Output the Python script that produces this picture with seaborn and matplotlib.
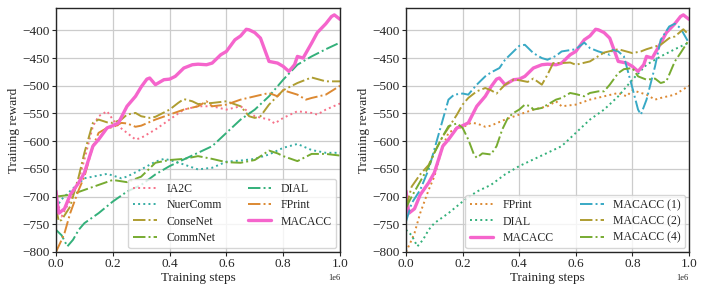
import matplotlib
matplotlib.use("Agg")
import matplotlib.pyplot as plt
import seaborn as sns
import numpy as np

# ---------------- data (x in units of 1e6 training steps) ----------------
macacc_x = [0, 0.005, 0.01, 0.03, 0.05, 0.08, 0.10, 0.13, 0.15, 0.18, 0.20, 0.22, 0.25, 0.28, 0.30,
            0.32, 0.33, 0.35, 0.38, 0.40, 0.42, 0.45, 0.48, 0.50, 0.53, 0.55, 0.58, 0.60, 0.63, 0.65,
            0.67, 0.68, 0.70, 0.72, 0.75, 0.78, 0.80, 0.82, 0.84, 0.85, 0.87, 0.90, 0.92, 0.95, 0.97,
            0.98, 1.0]
macacc_y = [-690, -712, -730, -722, -697, -675, -657, -609, -597, -576, -572, -567, -537, -519, -502,
            -488, -486, -498, -489, -488, -483, -468, -462, -461, -462, -459, -444, -438, -417, -410,
            -398, -399, -404, -414, -456, -459, -465, -474, -462, -447, -450, -423, -404, -388, -375,
            -372, -380]

dial_x = [0, 0.02, 0.04, 0.06, 0.08, 0.10, 0.15, 0.20, 0.25, 0.30, 0.35, 0.40, 0.45, 0.50, 0.55,
          0.60, 0.65, 0.70, 0.75, 0.80, 0.85, 0.90, 0.95, 1.0]
dial_y = [-760, -770, -790, -778, -760, -748, -730, -709, -691, -679, -660, -645, -633, -621, -609,
          -585, -561, -543, -519, -489, -462, -447, -434, -422]

ia2c_x = [0, 0.02, 0.05, 0.08, 0.10, 0.13, 0.15, 0.18, 0.20, 0.22, 0.25, 0.28, 0.30, 0.35, 0.40,
          0.45, 0.50, 0.55, 0.60, 0.65, 0.70, 0.75, 0.77, 0.80, 0.85, 0.90, 0.92, 0.95, 1.0]
ia2c_y = [-700, -736, -706, -670, -633, -573, -555, -546, -561, -573, -585, -597, -594, -579, -561,
          -543, -537, -537, -543, -537, -555, -561, -568, -558, -546, -549, -552, -543, -532]

nuercomm_x = [0, 0.02, 0.05, 0.10, 0.15, 0.18, 0.20, 0.23, 0.25, 0.30, 0.35, 0.38, 0.40, 0.45, 0.50,
              0.55, 0.60, 0.65, 0.70, 0.75, 0.80, 0.85, 0.90, 0.95, 1.0]
nuercomm_y = [-720, -705, -690, -667, -662, -659, -662, -667, -664, -651, -637, -632, -634, -642, -651,
              -648, -637, -635, -632, -624, -612, -605, -616, -621, -621]

consenet_x = [0, 0.01, 0.02, 0.05, 0.08, 0.10, 0.13, 0.15, 0.18, 0.20, 0.23, 0.25, 0.28, 0.30, 0.33,
              0.35, 0.40, 0.43, 0.45, 0.48, 0.50, 0.55, 0.60, 0.65, 0.68, 0.70, 0.72, 0.75, 0.80,
              0.85, 0.90, 0.95, 1.0]
consenet_y = [-720, -745, -742, -718, -664, -621, -567, -561, -566, -567, -561, -552, -549, -555, -558,
              -556, -543, -531, -524, -528, -533, -531, -528, -537, -555, -558, -555, -534, -508,
              -495, -485, -492, -492]

commnet_x = [0, 0.05, 0.10, 0.15, 0.20, 0.25, 0.30, 0.35, 0.40, 0.45, 0.50, 0.55, 0.60, 0.65, 0.70,
             0.75, 0.78, 0.80, 0.85, 0.90, 0.95, 1.0]
commnet_y = [-700, -697, -688, -679, -670, -674, -664, -639, -634, -632, -627, -632, -638, -639, -634,
             -617, -622, -627, -636, -623, -623, -626]

fprint_x = [0, 0.02, 0.03, 0.05, 0.08, 0.10, 0.13, 0.15, 0.18, 0.20, 0.23, 0.25, 0.28, 0.30, 0.35,
            0.40, 0.45, 0.50, 0.53, 0.55, 0.60, 0.65, 0.70, 0.75, 0.78, 0.80, 0.85, 0.88, 0.90,
            0.95, 1.0]
fprint_y = [-800, -778, -766, -730, -688, -664, -609, -585, -576, -575, -567, -568, -574, -572, -561,
            -552, -543, -537, -528, -537, -534, -525, -519, -513, -519, -508, -516, -525, -522,
            -516, -500]

macacc1_x = [0, 0.02, 0.05, 0.08, 0.10, 0.13, 0.15, 0.17, 0.20, 0.22, 0.25, 0.28, 0.30, 0.33, 0.35,
             0.38, 0.40, 0.42, 0.45, 0.48, 0.50, 0.53, 0.55, 0.60, 0.63, 0.65, 0.68, 0.70, 0.72,
             0.73, 0.75, 0.77, 0.80, 0.82, 0.83, 0.85, 0.88, 0.90, 0.93, 0.95, 0.97, 1.0]
macacc1_y = [-745, -712, -688, -651, -615, -561, -525, -516, -514, -516, -498, -483, -476, -468, -453,
             -438, -428, -426, -441, -450, -453, -446, -438, -434, -422, -432, -438, -441, -444,
             -435, -438, -447, -504, -543, -552, -525, -465, -417, -393, -388, -396, -423]

macacc2_x = [0, 0.02, 0.05, 0.08, 0.10, 0.13, 0.15, 0.18, 0.20, 0.22, 0.25, 0.28, 0.30, 0.32, 0.35,
             0.38, 0.40, 0.43, 0.45, 0.48, 0.50, 0.52, 0.55, 0.58, 0.60, 0.65, 0.70, 0.75, 0.80,
             0.83, 0.85, 0.90, 0.93, 0.95, 0.98, 1.0]
macacc2_y = [-720, -682, -660, -643, -621, -591, -576, -552, -534, -522, -510, -504, -508, -514, -498,
             -489, -490, -493, -487, -498, -480, -459, -459, -458, -462, -456, -440, -434, -441,
             -438, -434, -426, -414, -411, -398, -408]

macacc4_x = [0, 0.02, 0.05, 0.08, 0.10, 0.13, 0.15, 0.18, 0.20, 0.22, 0.24, 0.25, 0.27, 0.30, 0.32,
             0.34, 0.36, 0.38, 0.40, 0.42, 0.44, 0.45, 0.48, 0.50, 0.53, 0.55, 0.58, 0.60, 0.63,
             0.65, 0.68, 0.70, 0.72, 0.75, 0.77, 0.80, 0.82, 0.85, 0.88, 0.90, 0.92, 0.95, 0.97, 1.0]
macacc4_y = [-720, -700, -673, -646, -621, -591, -573, -568, -576, -597, -624, -630, -622, -624, -609,
             -579, -558, -549, -543, -534, -537, -543, -540, -534, -525, -522, -513, -515, -519,
             -513, -510, -510, -498, -477, -470, -468, -483, -489, -487, -495, -492, -456, -441, -417]

y_ticks = [-800, -750, -700, -650, -600, -550, -500, -450, -400]
x_ticks = [0.0, 0.2, 0.4, 0.6, 0.8, 1.0]

# ---------------- style ----------------
sns.set_theme(style="whitegrid")
pal = sns.color_palette("husl", 10)
plt.rcParams.update({
    "font.family": ["Liberation Serif", "DejaVu Serif"],
    "axes.edgecolor": "0.15",
    "axes.linewidth": 1.0,
    "grid.color": "0.8",
    "grid.linewidth": 0.9,
    "xtick.bottom": True,
    "ytick.left": True,
    "xtick.major.size": 3,
    "ytick.major.size": 3,
    "xtick.major.width": 0.8,
    "ytick.major.width": 0.8,
    "xtick.color": "0.15",
    "ytick.color": "0.15",
    "xtick.labelsize": 9.5,
    "ytick.labelsize": 9.5,
    "axes.labelsize": 9.5,
    "legend.fontsize": 8.5,
})

col = {
    "IA2C": pal[0], "FPrint": pal[1], "ConseNet": pal[2], "CommNet": pal[3],
    "DIAL": pal[4], "NuerComm": pal[5], "MACACC (1)": pal[6], "MACACC": pal[9],
    "MACACC (2)": pal[2], "MACACC (4)": pal[3],
}

fig = plt.figure(figsize=(7.06, 2.94), dpi=100)
ax1 = fig.add_axes([0.0793, 0.143, 0.4023, 0.829])
ax2 = fig.add_axes([0.5751, 0.143, 0.4008, 0.829])


def draw(ax, x, y, name, ls, lw=1.4):
    sns.lineplot(x=np.array(x) * 1e6, y=y, ax=ax, color=col[name], linestyle=ls,
                 linewidth=lw, label=name, sort=False, estimator=None)


draw(ax1, ia2c_x, ia2c_y, "IA2C", ":")
draw(ax1, nuercomm_x, nuercomm_y, "NuerComm", ":")
draw(ax1, consenet_x, consenet_y, "ConseNet", "-.")
draw(ax1, commnet_x, commnet_y, "CommNet", "-.")
draw(ax1, dial_x, dial_y, "DIAL", "-.")
draw(ax1, fprint_x, fprint_y, "FPrint", "-.")
draw(ax1, macacc_x, macacc_y, "MACACC", "-", lw=2.4)

draw(ax2, fprint_x, fprint_y, "FPrint", ":")
draw(ax2, dial_x, dial_y, "DIAL", ":")
draw(ax2, macacc_x, macacc_y, "MACACC", "-", lw=2.4)
draw(ax2, macacc1_x, macacc1_y, "MACACC (1)", "-.")
draw(ax2, macacc2_x, macacc2_y, "MACACC (2)", "-.")
draw(ax2, macacc4_x, macacc4_y, "MACACC (4)", "-.")

for ax in (ax1, ax2):
    ax.set_xlim(0, 1e6)
    ax.set_ylim(-800, -360)
    ax.set_yticks(y_ticks)
    ax.set_xticks([t * 1e6 for t in x_ticks])
    ax.set_xlabel("Training steps", labelpad=1)
    ax.set_ylabel("Training reward", labelpad=2)
    ax.tick_params(axis="both", pad=1.5)
    ax.xaxis.get_offset_text().set_fontsize(6)
    for s in ax.spines.values():
        s.set_color("0.15")
    ax.legend(ncol=2, loc="lower right", frameon=True, borderaxespad=0.3,
              columnspacing=2.2, handlelength=2.0, labelspacing=0.35)

fig.savefig("out.png", dpi=100)
